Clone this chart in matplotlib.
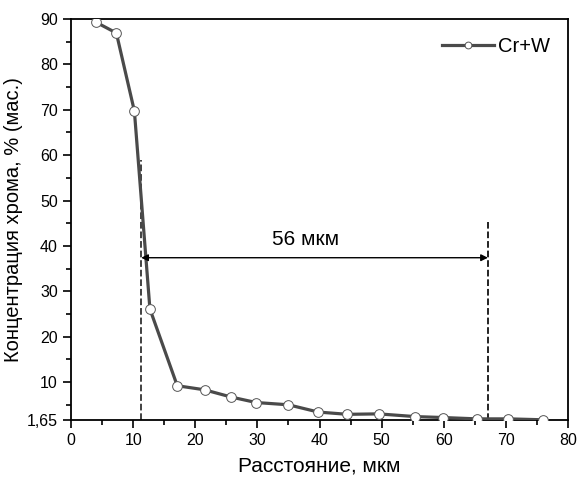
import numpy as np
import matplotlib.pyplot as plt
from matplotlib.ticker import MultipleLocator

plt.rcParams['font.family'] = ['Liberation Sans', 'DejaVu Sans']

# Data
distance = [4.0, 7.3, 10.2, 12.7, 17.1, 21.5, 25.8, 29.8, 35.0, 39.8,
            44.5, 49.5, 55.4, 59.8, 65.3, 70.4, 75.9]
conc = [89.3, 86.9, 69.7, 26.1, 9.2, 8.3, 6.7, 5.5, 5.0, 3.4,
        2.9, 3.0, 2.4, 2.2, 1.9, 1.9, 1.7]

y_ticks = [1.65, 10, 20, 30, 40, 50, 60, 70, 80, 90]
y_tick_labels = ["1,65", "10", "20", "30", "40", "50", "60", "70", "80", "90"]

left_bound, right_bound = 11.3, 67.1
left_top, right_top = 59, 45.3
arrow_y = 37.4

fig = plt.figure(figsize=(5.85, 4.86), dpi=100)
ax = fig.add_axes([0.1214, 0.1358, 0.8496, 0.8252])

ax.plot(distance, conc, color="#4a4a4a", lw=2.3, marker="o", ms=7,
        mfc="white", mec="#555555", mew=0.7, label="Cr+W", zorder=3)

ax.plot([left_bound, left_bound], [1.65, left_top], ls="--", color="#333333", lw=1.3)
ax.plot([right_bound, right_bound], [1.65, right_top], ls="--", color="#111111", lw=1.3)
ax.annotate("", xy=(left_bound, arrow_y), xytext=(right_bound, arrow_y),
            arrowprops=dict(arrowstyle="<|-|>", color="black", lw=1.0,
                            mutation_scale=10, shrinkA=0, shrinkB=0))
ax.text(37.7, arrow_y + 2.0, "56 мкм", ha="center", va="bottom", fontsize=15)

ax.set_xlim(0, 80)
ax.set_ylim(1.65, 90)
ax.set_xticks(range(0, 81, 10))
ax.xaxis.set_minor_locator(MultipleLocator(5))
ax.set_yticks(y_ticks)
ax.set_yticklabels(y_tick_labels)
ax.set_yticks([5, 15, 25, 35, 45, 55, 65, 75, 85], minor=True)
ax.tick_params(which="major", direction="out", length=6, width=1.2, labelsize=11.5)
ax.tick_params(which="minor", direction="out", length=3.5, width=1.2)
for s in ax.spines.values():
    s.set_linewidth(1.3)

ax.set_xlabel("Расстояние, мкм", fontsize=15, labelpad=6)
ax.set_ylabel("Концентрация хрома, % (мас.)", fontsize=14.5, labelpad=3)

ax.legend(loc="upper right", frameon=False, fontsize=14.5, handlelength=2.6,
          handletextpad=0.2, markerscale=0.7, borderaxespad=0.5)

fig.savefig("out.png", dpi=100)
